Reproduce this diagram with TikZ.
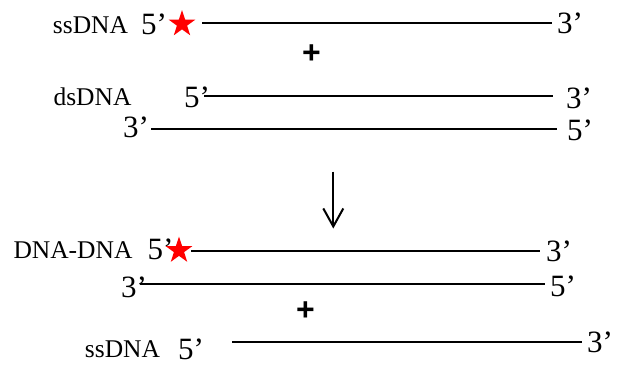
\documentclass[tikz,border=0pt]{standalone}
\usepackage{fontspec}
\setmainfont{Liberation Serif}
\newfontfamily\plusfont{Liberation Sans}
\usetikzlibrary{shapes.geometric,arrows.meta}
\tikzset{
  lbl/.style={inner sep=0pt, font=\fontsize{25.5}{30}\selectfont},
  endlbl/.style={inner sep=0pt, anchor=west, font=\fontsize{31}{36}\selectfont},
  plussign/.style={inner sep=0pt, font=\plusfont\bfseries\fontsize{32}{36}\selectfont},
  tag/.style={star, star points=5, star point ratio=2.618, minimum size=28pt, inner sep=0pt, fill=red, draw=none},
  strand/.style={line width=2pt},
  reacts/.style={line width=2pt, -{Straight Barb[length=18pt,width=20pt,line width=2pt]}}
}
\begin{document}
\begin{tikzpicture}[x=1pt,y=-1pt]
\useasboundingbox (0,0) rectangle (628,364);
% top ssDNA
\node[lbl] (ssA) at (90.5,25) {ssDNA};
\node[endlbl] (ssA5) at (141,24) {5’};
\node[tag] (starA) at (182,24) {};
\coordinate (ssAs) at (202,23);
\coordinate (ssAe) at (552,23);
\draw[strand] (ssAs) -- (ssAe);
\node[endlbl] (ssA3) at (557,23) {3’};
\node[plussign] (plusA) at (311.5,54) {+};
% dsDNA
\node[lbl] (ds) at (92.5,97) {dsDNA};
\node[endlbl] (dsT5) at (184,97.5) {5’};
\coordinate (dsTs) at (204,96);
\coordinate (dsTe) at (553,96);
\draw[strand] (dsTs) -- (dsTe);
\node[endlbl] (dsT3) at (566,98) {3’};
\node[endlbl] (dsB3) at (123,127.5) {3’};
\coordinate (dsBs) at (151,129);
\coordinate (dsBe) at (557,129);
\draw[strand] (dsBs) -- (dsBe);
\node[endlbl] (dsB5) at (567,130) {5’};
% arrow
\coordinate (arS) at (333.3,171.5);
\coordinate (arE) at (333.3,228.5);
\draw[reacts] (arS) -- (arE);
% DNA-DNA
\node[lbl] (dd) at (73,250) {DNA-DNA};
\node[endlbl] (ddT5) at (147.5,249.5) {5’};
\node[tag] (starB) at (179,250.5) {};
\coordinate (ddTs) at (191,251);
\coordinate (ddTe) at (540,251);
\draw[strand] (ddTs) -- (ddTe);
\node[endlbl] (ddT3) at (546,251.5) {3’};
\node[endlbl] (ddB3) at (121,287) {3’};
\coordinate (ddBs) at (140,284);
\coordinate (ddBe) at (545,284);
\draw[strand] (ddBs) -- (ddBe);
\node[endlbl] (ddB5) at (550,286.7) {5’};
\node[plussign] (plusB) at (305.5,311) {+};
% bottom ssDNA
\node[lbl] (ssB) at (122.5,349) {ssDNA};
\node[endlbl] (ssB5) at (178,349.5) {5’};
\coordinate (ssBs) at (232,342);
\coordinate (ssBe) at (582,342);
\draw[strand] (ssBs) -- (ssBe);
\node[endlbl] (ssB3) at (587,342.5) {3’};
\end{tikzpicture}
\end{document}
